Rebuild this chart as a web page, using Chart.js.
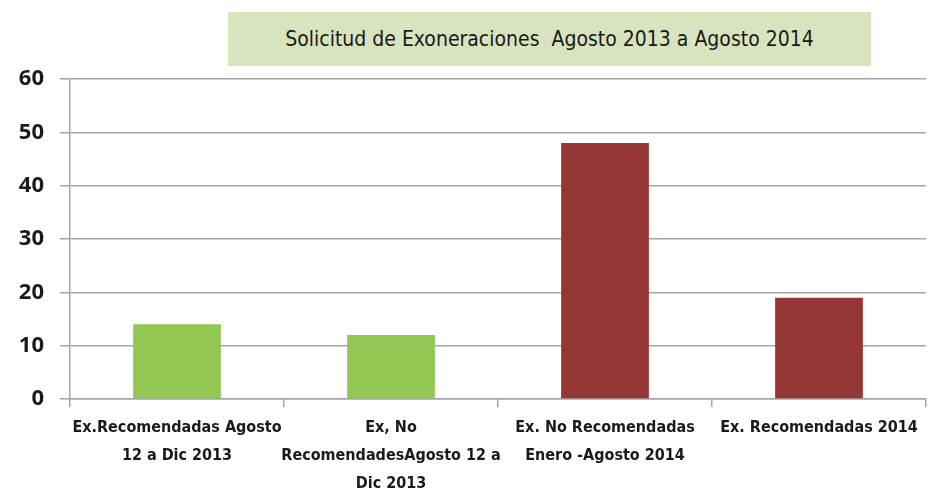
<!DOCTYPE html>
<html>
<head>
<meta charset="utf-8">
<script src="https://cdn.jsdelivr.net/npm/chart.js@4"></script>
<style>
  body { margin: 0; background: #fff; }
  #wrap { position: relative; width: 930px; height: 495px; }
  #titleBox {
    position: absolute; left: 228px; top: 12px; width: 643px; height: 54px;
    background: #d7e4bd; display: flex; align-items: center; justify-content: center;
    font-family: "DejaVu Sans Condensed", sans-serif;
    font-size: 21px; color: #1a1a1a; white-space: pre;
  }
</style>
</head>
<body>
<div id="wrap">
  <canvas id="chartCanvas" width="930" height="495"></canvas>
  <div id="titleBox">Solicitud de Exoneraciones  Agosto 2013 a Agosto 2014</div>
</div>
<script>
const categories = [
  ['Ex.Recomendadas Agosto', '12 a Dic 2013'],
  ['Ex, No', 'RecomendadesAgosto 12 a', 'Dic 2013'],
  ['Ex. No Recomendadas', 'Enero -Agosto 2014'],
  ['Ex. Recomendadas 2014']
];
const values = [14, 12, 48, 19];
const barColors = ['#92c852', '#92c852', '#953735', '#953735'];
const yTicks = [0, 10, 20, 30, 40, 50, 60];

const gridGrey = '#a6a6a6';

new Chart(document.getElementById('chartCanvas').getContext('2d'), {
  type: 'bar',
  data: {
    labels: categories,
    datasets: [{
      data: values,
      backgroundColor: barColors,
      categoryPercentage: 1,
      barPercentage: 0.41
    }]
  },
  options: {
    responsive: false,
    animation: false,
    layout: { padding: { top: 79, right: 4, left: 0, bottom: 0 } },
    plugins: { legend: { display: false }, tooltip: { enabled: false } },
    scales: {
      x: {
        offset: true,
        grid: { offset: true, drawOnChartArea: false, color: gridGrey, tickLength: 8, lineWidth: 1.5 },
        border: { color: gridGrey, width: 1.5 },
        ticks: {
          color: '#1a1a1a', maxRotation: 0, autoSkip: false, padding: 7,
          font: { family: '"DejaVu Sans Condensed", sans-serif', size: 16, weight: 'bold', lineHeight: 1.75 }
        },
        afterFit: s => { s.height = 96; }
      },
      y: {
        min: 0, max: 60,
        afterBuildTicks: s => { s.ticks = yTicks.map(v => ({ value: v })); },
        grid: { color: gridGrey, tickLength: 10, lineWidth: 1.5 },
        border: { color: gridGrey, width: 1.5 },
        ticks: {
          color: '#1a1a1a', padding: 16,
          font: { family: '"Open Sans", sans-serif', size: 22, weight: 'bold' }
        },
        afterFit: s => { s.width = 70; }
      }
    }
  }
});
</script>
</body>
</html>
